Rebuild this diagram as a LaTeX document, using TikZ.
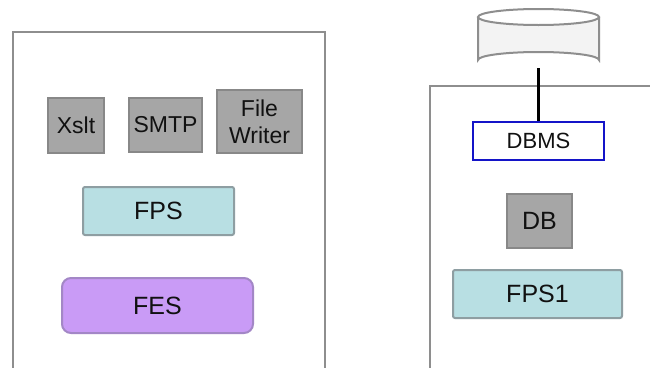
\documentclass[tikz,border=0pt]{standalone}
\usepackage{fontspec}
\setmainfont{Liberation Sans}
\definecolor{framegray}{HTML}{8E8E8E}
\definecolor{boxgray}{HTML}{A6A6A6}
\definecolor{boxedge}{HTML}{888888}
\definecolor{tealfill}{HTML}{B8DFE3}
\definecolor{tealedge}{HTML}{8E9EA2}
\definecolor{lavfill}{HTML}{C99BF6}
\definecolor{lavedge}{HTML}{A387C6}
\definecolor{cylfill}{HTML}{F3F3F3}
\definecolor{dbmsblue}{HTML}{1414C8}
\definecolor{inktext}{HTML}{111111}
\begin{document}
\begin{tikzpicture}[x=1pt,y=-1pt,
  frame/.style={draw=framegray,line width=2pt},
  comp/.style={draw=boxedge,fill=boxgray,line width=2pt,inner sep=0pt,
    text=inktext,font=\fontsize{23}{27}\selectfont,align=center},
  svc/.style={draw=tealedge,fill=tealfill,line width=2pt,inner sep=0pt,
    rounded corners=2pt,text=inktext,font=\fontsize{25}{29}\selectfont},
  engine/.style={draw=lavedge,fill=lavfill,line width=2pt,inner sep=0pt,
    rounded corners=9pt,text=inktext,font=\fontsize{25}{29}\selectfont},
  dbms/.style={draw=dbmsblue,fill=white,line width=2.2pt,inner sep=0pt,
    text=inktext,font=\fontsize{22}{26}\selectfont},
  link/.style={draw=black,line width=2.5pt}]
\useasboundingbox[fill=white] (0,0) rectangle (650,367);

% left container, open at the bottom
\draw[frame] (13,380) -- (13,32) -- (325,32) -- (325,380);
% right container, open at the bottom and right
\draw[frame] (430,380) -- (430,86) -- (660,86);

% left container contents
\node[comp,minimum width=56pt,minimum height=55pt] (xslt) at (76,125.5) {Xslt};
\node[comp,minimum width=73pt,minimum height=54pt] (smtp) at (165.5,125) {SMTP};
\node[comp,minimum width=85pt,minimum height=63pt] (fw) at (259.5,121.5) {File\\Writer};
\node[svc,minimum width=151pt,minimum height=48pt] (fps) at (158.5,211) {FPS};
\node[engine,minimum width=191pt,minimum height=55pt] (fes) at (157.5,305.5) {FES};

% database store (cylinder)
\node[inner sep=0pt,minimum width=121pt,minimum height=59pt] (store) at (538.5,38.5) {};
\fill[cylfill] (478,17) -- (478,60) arc[start angle=180,end angle=360,x radius=60.5,y radius=8]
  -- (599,17) arc[start angle=0,end angle=180,x radius=60.5,y radius=8] -- cycle;
\draw[framegray,line width=2pt] (478,17) -- (478,60)
  arc[start angle=180,end angle=360,x radius=60.5,y radius=8] -- (599,17);
\draw[framegray,line width=2pt] (538.5,17) ellipse[x radius=60.5,y radius=8];

% right container contents
\node[dbms,minimum width=131pt,minimum height=38pt] (dbmsbox) at (538.5,141) {DBMS};
\node[comp,font=\fontsize{25}{29}\selectfont,minimum width=65pt,minimum height=54pt] (db) at (539.5,221) {DB};
\node[svc,minimum width=169pt,minimum height=48pt] (fps1) at (537.5,294) {FPS1};

\draw[link] (store.south) -- (dbmsbox.north);
\end{tikzpicture}
\end{document}
